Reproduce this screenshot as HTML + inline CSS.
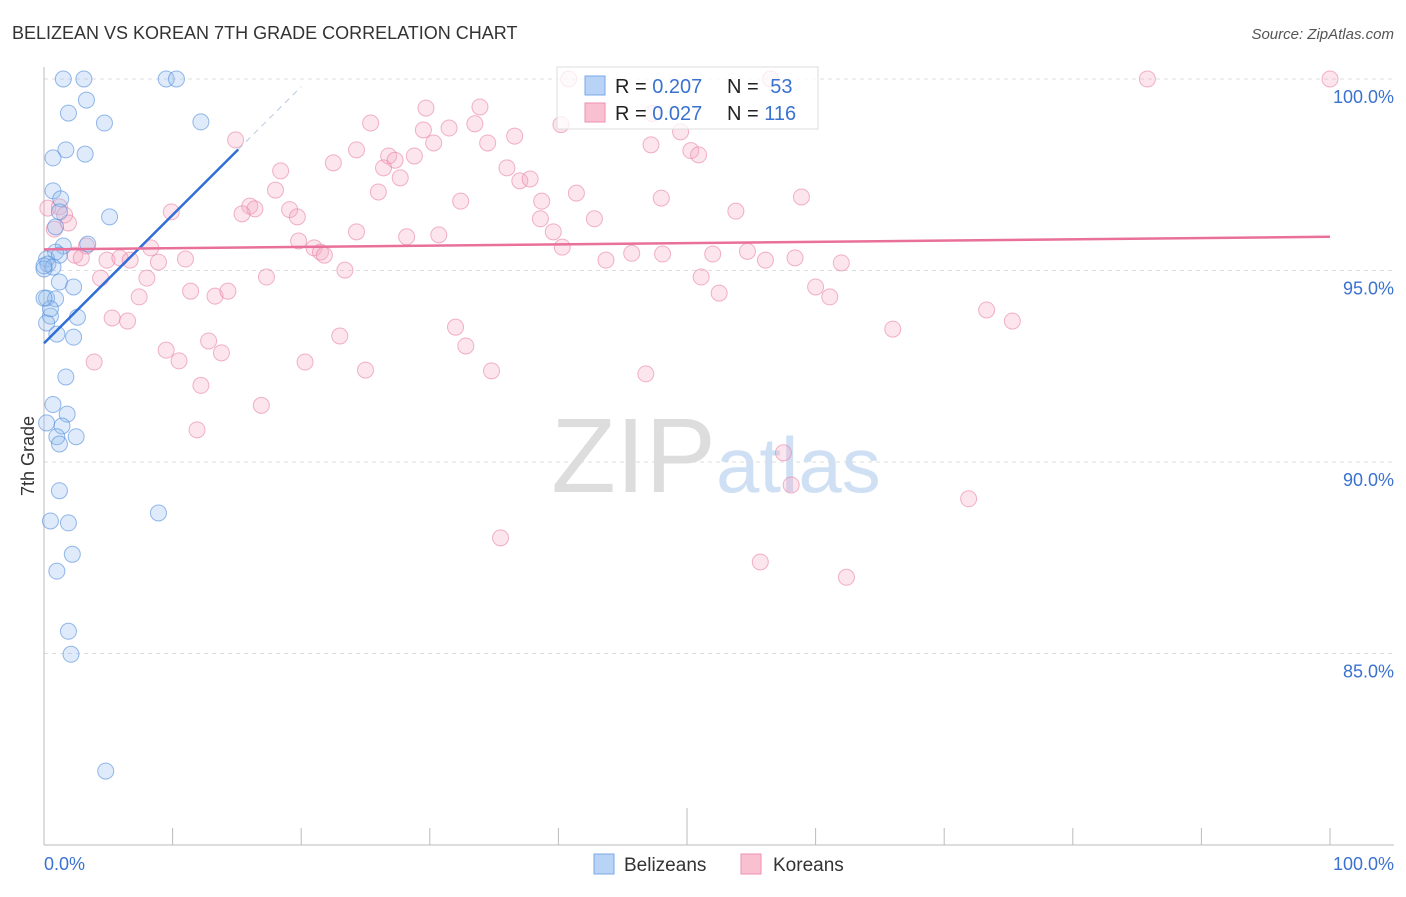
<!DOCTYPE html>
<html><head><meta charset="utf-8"><style>
body{margin:0;background:#fff;font-family:"Liberation Sans",sans-serif}
svg text{font-family:"Liberation Sans",sans-serif}
</style></head><body>
<svg id="chart" width="1406" height="892">
<text x="12" y="39" font-size="18" fill="#333">BELIZEAN VS KOREAN 7TH GRADE CORRELATION CHART</text>
<text x="1394" y="39" font-size="15" fill="#555" text-anchor="end" font-style="italic">Source: ZipAtlas.com</text>
<text x="716" y="492" font-size="106" fill="#ddd" text-anchor="end" font-family="Liberation Serif">ZIP</text>
<text x="716" y="492" font-size="78" fill="#cfe0f5">atlas</text>
<text x="34" y="456" font-size="18" fill="#333" text-anchor="middle" transform="rotate(-90 34 456)">7th Grade</text>
<g id="grid"></g><g id="marks"></g>
<g>
<rect x="557" y="67" width="261" height="62" fill="rgba(255,255,255,0.75)" stroke="#ddd"/>
<rect x="585" y="76" width="20" height="19" fill="#b8d3f5" stroke="#7aa9e8"/>
<rect x="585" y="103" width="20" height="19" fill="#f9c0d2" stroke="#ee8fb0"/>
<text x="615" y="93" font-size="20" fill="#222">R = <tspan fill="#3a72d0">0.207</tspan></text>
<text x="727" y="93" font-size="20" fill="#222">N = <tspan fill="#3a72d0" dx="6">53</tspan></text>
<text x="615" y="120" font-size="20" fill="#222">R = <tspan fill="#3a72d0">0.027</tspan></text>
<text x="727" y="120" font-size="20" fill="#222">N = <tspan fill="#3a72d0">116</tspan></text>
</g>
<g>
<rect x="594" y="854" width="20" height="20" fill="#b8d3f5" stroke="#7aa9e8"/>
<text x="624" y="871" font-size="19" fill="#333">Belizeans</text>
<rect x="741" y="854" width="20" height="20" fill="#f9c0d2" stroke="#ee8fb0"/>
<text x="773" y="871" font-size="19" fill="#333">Koreans</text>
</g>
</svg>
<script>
const yTicks=[100,95,90,85];
const xTickLabels=["0.0%","100.0%"];
const belX=[1.5,3.1,9.5,10.3,3.3,1.9,4.7,12.2,1.7,3.2,0.7,0.7,1.3,5.1,1.2,0.9,1.5,3.4,0.9,0.2,1.2,0.3,0.7,0,0.2,0.9,1.2,2.3,0.5,2.6,0.2,1,2.3,1.7,0.7,1.8,1.4,0.2,1,1.2,2.5,1.2,0.5,1.9,8.9,2.2,1,1.9,2.1,4.8,0,0.5,0];
const belY=[100,100,100,100,99.45,99.11,98.85,98.88,98.15,98.04,97.94,97.08,96.87,96.4,96.53,96.14,95.64,95.69,95.48,95.3,95.4,95.17,95.09,95.04,94.28,94.26,94.7,94.57,93.81,93.78,93.63,93.34,93.26,92.22,91.5,91.25,90.94,91.02,90.66,90.47,90.66,89.25,88.46,88.41,88.67,87.59,87.15,85.58,84.98,81.93,95.12,94.0,94.28];
const korX=[40.8,56.5,85.8,100,29.7,33.9,14.9,25.4,33.5,40.2,47.3,49.5,29.5,31.5,34.5,36.6,24.3,30.3,26.8,27.3,28.8,47.2,50.3,50.9,22.5,26.4,27.7,36,18.4,18,26,37,37.8,41.4,32.4,38.7,48,58.9,53.8,16,16.4,15.4,19.1,19.7,9.9,38.6,42.8,0.3,1.2,1.6,1.9,0.8,24.3,28.2,30.7,39.6,19.8,21,21.5,21.8,40.3,54.7,3.3,8.3,2.4,2.9,4.9,5.9,6.7,8.9,11,23.4,43.7,45.7,48.1,52,56.1,58.4,62,4.4,8,17.3,51.1,60,11.4,13.3,14.3,7.4,52.5,61.1,73.3,75.3,5.3,6.5,32,66,23,12.8,32.8,9.5,13.8,3.9,10.5,20.3,25,34.8,46.8,12.2,16.9,11.9,57.5,58.1,71.9,35.5,55.7,62.4];
const korY=[100,100,100,100,99.24,99.27,98.41,98.85,98.83,98.81,99.1,98.62,98.67,98.72,98.33,98.51,98.15,98.33,97.99,97.88,97.99,98.28,98.13,98.02,97.81,97.68,97.42,97.68,97.6,97.1,97.05,97.34,97.39,97.02,96.81,96.81,96.89,96.92,96.55,96.68,96.61,96.48,96.59,96.4,96.53,96.35,96.35,96.63,96.66,96.45,96.24,96.08,96.01,95.88,95.93,96.01,95.77,95.59,95.48,95.4,95.61,95.5,95.64,95.59,95.4,95.33,95.27,95.33,95.27,95.22,95.3,95.01,95.27,95.45,95.43,95.43,95.27,95.33,95.2,94.8,94.8,94.83,94.83,94.57,94.46,94.33,94.46,94.31,94.41,94.31,93.97,93.68,93.76,93.68,93.52,93.47,93.29,93.16,93.03,92.92,92.85,92.61,92.64,92.61,92.4,92.38,92.3,92.0,91.48,90.84,90.24,89.4,89.04,88.02,87.39,86.99];
const X0=44,X1=1330,Y100=79,PX5=191.5;
const xs=v=>X0+(X1-X0)*v/100, ys=v=>Y100+(100-v)*PX5/5;
const NS="http://www.w3.org/2000/svg";
function mk(t,a,p){const e=document.createElementNS(NS,t);for(const k in a)e.setAttribute(k,a[k]);p.appendChild(e);return e;}
const g=document.getElementById('grid'),m=document.getElementById('marks');
yTicks.forEach(v=>{
 const l=mk('line',{x1:44,x2:1394,y1:ys(v),y2:ys(v),stroke:'#ddd','stroke-dasharray':'4,4'},g);
 
 
 const t=mk('text',{x:1394,y:ys(v)+24,'font-size':18,fill:'#3a72d0','text-anchor':'end'},g);
 t.textContent=v.toFixed(1)+'%';
 
 
});
mk('line',{x1:44,x2:44,y1:67,y2:845,stroke:'#bbb'},g);
mk('line',{x1:44,x2:1394,y1:845,y2:845,stroke:'#bbb'},g);
for(let i=0;i<=10;i++){const x=xs(i*10);const tk=mk('line',{x1:x,x2:x,y1:i==5?808:828,y2:845,stroke:'#bbb'},g);
 
 }
[[0,'start',44],[100,'end',1394]].forEach((d,i)=>{const t=mk('text',{x:d[2],y:870,'font-size':18,fill:'#3a72d0','text-anchor':d[1]},g);t.textContent=xTickLabels[i];
 
 });
korX.forEach((x,i)=>{const c=mk('circle',{cx:xs(x),cy:ys(korY[i]),r:8,fill:'rgba(246,168,196,0.3)',stroke:'rgba(232,130,165,0.6)'},m);
 
 });
belX.forEach((x,i)=>{const c=mk('circle',{cx:xs(x),cy:ys(belY[i]),r:8,fill:'rgba(150,190,240,0.3)',stroke:'rgba(80,140,220,0.6)'},m);
 
 });
const bl=mk('line',{x1:xs(0),y1:ys(93.1),x2:xs(15.1),y2:ys(98.16),stroke:'#2f6fd6','stroke-width':2.5},m);


const bd=mk('line',{x1:xs(15.1),y1:ys(98.16),x2:xs(20),y2:ys(99.8),stroke:'#b8c8e0','stroke-dasharray':'6,5'},m);


const kl=mk('line',{x1:xs(0),y1:ys(95.55),x2:xs(100),y2:ys(95.88),stroke:'#e8709a','stroke-width':2.5},m);


</script>
</body></html>
